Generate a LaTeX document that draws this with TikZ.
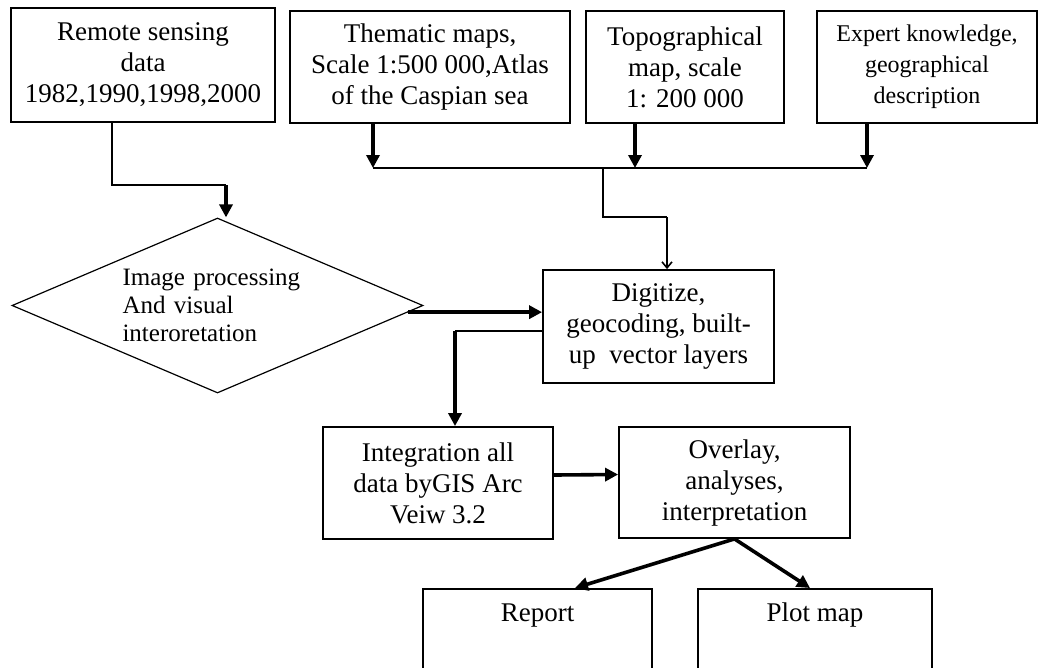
\documentclass[tikz,border=0pt]{standalone}
\usepackage{fontspec}
\setmainfont{Liberation Serif}
\usetikzlibrary{arrows.meta, shapes.geometric}

\begin{document}
\begin{tikzpicture}[x=1pt, y=-1pt,
                box/.style={draw, line width=1.8pt, inner sep=0pt, align=center, font=\fontsize{27}{31}\selectfont},
                feed/.style={line width=1.6pt},
                feedarrow/.style={feed, -{Straight Barb[length=6pt, width=10pt]}},
                flow/.style={line width=3.6pt, -{Triangle[length=13pt, width=13pt]}}]
                \useasboundingbox (0,0) rectangle (1040,667);
                \clip (0,0) rectangle (1040,667);
                % sources
                \node[box, minimum width=264, minimum height=114] (remote) at (143,65) {Remote sensing\\data\\1982,1990,1998,2000};
                \node[box, minimum width=280, minimum height=112] (thematic) at (430,67) {Thematic maps,\\Scale 1:500 000,Atlas\\of the Caspian sea};
                \node[box, minimum width=198, minimum height=112] (topo) at (685,67) {Topographical\\map, scale\\1: 200 000};
                \node[box, minimum width=220, minimum height=112, font=\fontsize{24}{31}\selectfont] (expert) at (927,67) {Expert knowledge,\\geographical\\description};
                \node[draw, diamond, aspect=2.35, line width=1.2pt, inner sep=0pt, minimum width=411, minimum height=175,
                      align=left, text width=190pt, font=\fontsize{25}{28}\selectfont] (imgproc) at (217.5,305.5) {Image processing\\And visual\\interoretation};
                \node[box, minimum width=231, minimum height=113] (digit) at (658.5,326.5) {Digitize,\\geocoding, built-\\up\ \ vector layers};
                \node[box, minimum width=230, minimum height=112] (integ) at (438,483) {Integration all\\data byGIS Arc\\Veiw 3.2};
                \node[box, minimum width=231, minimum height=111] (overlay) at (734.5,482.5) {Overlay,\\analyses,\\interpretation};
                \node[box, anchor=north, minimum width=229, text height=19pt, text depth=66pt, inner ysep=14pt] (report) at (537.5,588) {Report};
                \node[box, anchor=north, minimum width=234, text height=19pt, text depth=66pt, inner ysep=14pt] (plot) at (815,588) {Plot map};
                \coordinate (busL) at (373,168);
                \coordinate (busT) at (635,168);
                \coordinate (busR) at (867,168);
                \coordinate (busJ) at (603,168);
                \coordinate (bend) at (667,217);
                \coordinate (rbend) at (226,185);
                \coordinate (dcorner) at (455,331);
                \draw[flow] (thematic.south -| busL) -- (busL);
                \draw[flow] (topo.south -| busT) -- (busT);
                \draw[flow] (expert.south -| busR) -- (busR);
                \draw[feed] (busL) -- (busR);
                \draw[feed] (busJ) |- (bend);
                \draw[feedarrow] (bend) -- (bend |- digit.north);
                \draw[feed] ([xshift=-31pt]remote.south) |- (rbend);
                \draw[flow] (rbend) -- (rbend |- imgproc.north);
                \draw[flow] (imgproc.-2.6) -- (imgproc.-2.6 -| digit.west);
                \draw[feed] ([yshift=-4.5pt]digit.west) -- (dcorner);
                \draw[flow] (dcorner) -- (dcorner |- integ.north);
                \draw[flow] ([yshift=8pt]integ.east) -- ([yshift=8pt]overlay.west);
                \draw[flow] (overlay.south) -- ([xshift=37.5pt]report.north);
                \draw[flow] (overlay.south) -- ([xshift=-5pt]plot.north);
            \end{tikzpicture}
\end{document}
